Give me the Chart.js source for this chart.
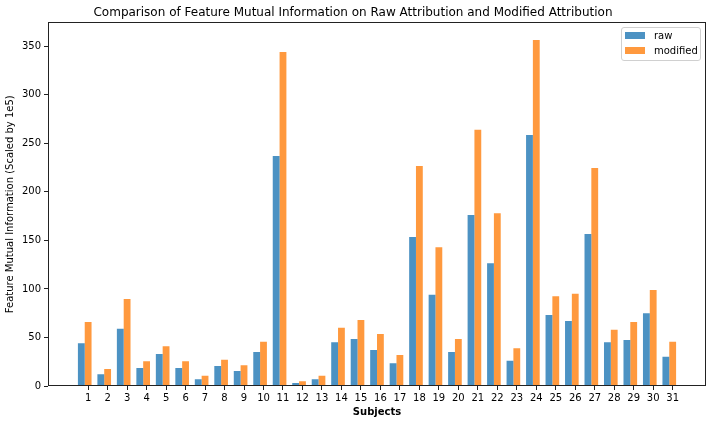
<!DOCTYPE html>
<html>
<head>
<meta charset="utf-8">
<script src="https://cdn.jsdelivr.net/npm/chart.js@4/dist/chart.umd.min.js"></script>
<style>
  body { margin: 0; background: #fff; }
  #contenedor { position: relative; width: 712px; height: 424px; }
  #leyenda {
    position: absolute; left: 621px; top: 27px; width: 78px; height: 32px;
    border: 1px solid #d0d0d0; border-radius: 3px; background: rgba(255,255,255,0.8);
    font-family: "DejaVu Sans", sans-serif; font-size: 10px; color: #000;
  }
  .parche { position: absolute; left: 3px; width: 20px; height: 7px; }
  .etiqueta { position: absolute; left: 32px; line-height: 12px; white-space: nowrap; }
</style>
</head>
<body>
<div id="contenedor">
  <canvas id="grafico" width="712" height="424"></canvas>
  <div id="leyenda"></div>
</div>
<script>
// Datos
const subjects = ['1','2','3','4','5','6','7','8','9','10','11','12','13','14','15','16',
  '17','18','19','20','21','22','23','24','25','26','27','28','29','30','31'];
const raw = [44, 12, 59, 18.5, 33, 18.5, 7, 20.5, 15.5, 35, 237, 3, 7, 45, 48.5, 37,
  23.5, 153.5, 94, 35, 176, 126.5, 26, 258.5, 73, 67, 156.5, 45, 47.5, 75, 30];
const modified = [66, 17.5, 89.5, 25.5, 41, 25.5, 10.5, 27, 21.5, 45.5, 344, 5, 10.5, 60, 68, 53.5,
  32, 226.5, 143, 48.5, 264, 178, 39, 356.5, 92.5, 95, 224.5, 58, 66, 99, 45.5];
const yTicks = [0, 50, 100, 150, 200, 250, 300, 350];

const colorRaw = 'rgba(31,119,180,0.8)';
const colorMod = 'rgba(255,127,14,0.8)';
const fuente = { family: 'DejaVu Sans', size: 10 };

// puntos en eje lineal (x = índice del sujeto)
const aPuntos = arr => arr.map((v, i) => ({ x: i, y: v }));

// marco completo alrededor del área (como los spines de matplotlib)
const marco = {
  id: 'marco',
  afterDraw(chart) {
    const a = chart.chartArea, c = chart.ctx;
    c.save();
    c.strokeStyle = '#222';
    c.lineWidth = 1;
    c.strokeRect(Math.round(a.left) + 0.5, Math.round(a.top) + 0.5,
      Math.round(a.right - a.left) - 1, Math.round(a.bottom - a.top) - 1);
    c.restore();
  }
};

const ctx = document.getElementById('grafico').getContext('2d');
window.myChart = new Chart(ctx, {
  type: 'bar',
  data: {
    datasets: [
      { label: 'raw', data: aPuntos(raw), backgroundColor: colorRaw, borderWidth: 0 },
      { label: 'modified', data: aPuntos(modified), backgroundColor: colorMod, borderWidth: 0 },
      // serie vacía: centra la barra naranja sobre la marca, igual que el original
      { label: '', data: aPuntos(raw.map(() => 0)), backgroundColor: 'rgba(0,0,0,0)', borderWidth: 0 }
    ]
  },
  options: {
    responsive: false,
    animation: false,
    layout: { padding: { left: 0, right: 6, top: 0, bottom: 0 } },
    datasets: { bar: { barPercentage: 1, categoryPercentage: 1.05 } },
    plugins: {
      legend: { display: false },
      tooltip: { enabled: false },
      title: {
        display: true,
        text: 'Comparison of Feature Mutual Information on Raw Attribution and Modified Attribution',
        color: '#000',
        font: { family: 'DejaVu Sans', size: 12, weight: 'normal' },
        padding: { top: 6, bottom: 2 }
      }
    },
    scales: {
      x: {
        type: 'linear',
        offset: false,
        min: -2.06,
        max: 31.71,
        grid: { offset: false, drawOnChartArea: false, drawTicks: true, tickLength: 4, color: '#222' },
        border: { display: false },
        ticks: {
          color: '#000', font: fuente, padding: 2, maxRotation: 0, autoSkip: false,
          includeBounds: false,
          callback: v => subjects[v]
        },
        afterBuildTicks: s => { s.ticks = subjects.map((_, i) => ({ value: i })); },
        afterFit: s => { s.height = 38; },
        title: {
          display: true, text: 'Subjects', color: '#000',
          font: { family: 'DejaVu Sans', size: 10, weight: 'bold' },
          padding: { top: 2, bottom: 6 }
        }
      },
      y: {
        min: 0,
        max: 374.5,
        grid: { drawOnChartArea: false, drawTicks: true, tickLength: 4, color: '#222' },
        border: { display: false },
        ticks: { color: '#000', font: fuente, padding: 3, includeBounds: false },
        afterBuildTicks: s => { s.ticks = yTicks.map(v => ({ value: v })); },
        afterFit: s => { s.width = 48; },
        title: {
          display: true, text: 'Feature Mutual Information (Scaled by 1e5)', color: '#000',
          font: fuente, padding: { top: 4, bottom: 4 }
        }
      }
    }
  },
  plugins: [marco]
});

// Leyenda en HTML (arriba a la derecha, dentro del área)
const leyenda = document.getElementById('leyenda');
myChart.data.datasets.slice(0, 2).forEach((ds, i) => {
  const p = document.createElement('div');
  p.className = 'parche';
  p.style.top = (4 + i * 15) + 'px';
  p.style.background = ds.backgroundColor;
  const t = document.createElement('div');
  t.className = 'etiqueta';
  t.style.top = (2 + i * 15) + 'px';
  t.textContent = ds.label;
  leyenda.appendChild(p);
  leyenda.appendChild(t);
});
</script>
</body>
</html>
